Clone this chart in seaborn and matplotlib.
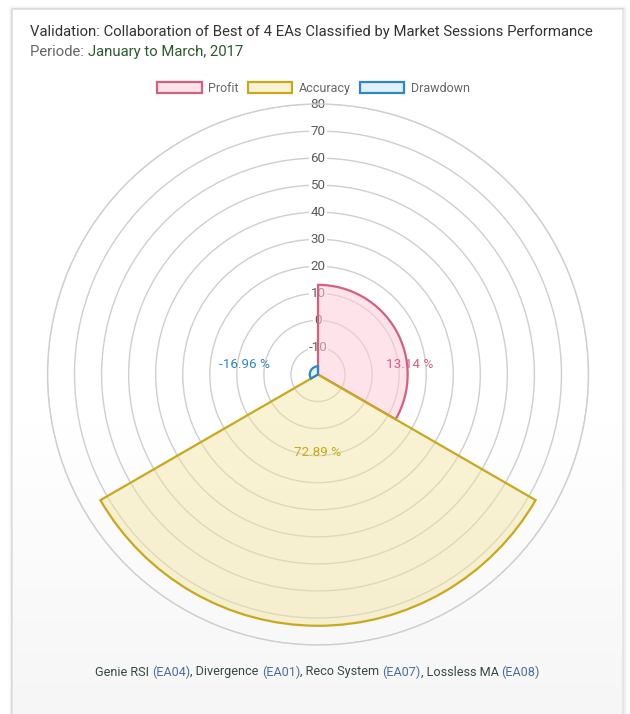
import numpy as np
import matplotlib
matplotlib.use("Agg")
import matplotlib.pyplot as plt
from matplotlib.patches import Rectangle
import seaborn as sns

# ---- data ----
categories = ["Profit", "Accuracy", "Drawdown"]
values = [13.14, 72.89, -16.96]
value_labels = ["13.14 %", "72.89 %", "-16.96 %"]
r_ticks = [-10, 0, 10, 20, 30, 40, 50, 60, 70, 80]
r_min, r_max = -20, 80
title = "Validation: Collaboration of Best of 4 EAs Classified by Market Sessions Performance"
sub_prefix = "Periode: "
sub_period = "January to March, 2017"
footer_names = ["Genie RSI", "Divergence", "Reco System", "Lossless MA"]
footer_codes = ["(EA04)", "(EA01)", "(EA07)", "(EA08)"]

# ---- style ----
sns.set_theme(style="white")
plt.rcParams["font.family"] = ["Roboto", "DejaVu Sans"]

edge_colors = ["#d4607f", "#c8a91e", "#2f86c0"]
fill_colors = [(1.0, 0.80, 0.86, 0.55), (0.95, 0.89, 0.62, 0.45), (0.80, 0.91, 0.97, 0.6)]
label_pos = [(83.5, 14.2), (180, 9.0), (278, 7.3)]  # (deg, r) for value labels

W, H = 630, 714
fig = plt.figure(figsize=(W / 100, H / 100), dpi=100)
fig.patch.set_facecolor("white")

# card background with gradient
bg = fig.add_axes([0, 0, 1, 1])
bg.set_xlim(0, W)
bg.set_ylim(H, 0)
bg.axis("off")
grad = np.ones((H, 1, 3))
ys = np.arange(H)
t = np.clip((ys - 420) / (H - 420), 0, 1)
shade = 1 - 0.035 * t
grad[:, 0, 0] = shade
grad[:, 0, 1] = shade
grad[:, 0, 2] = shade
card = Rectangle((12, 9), 611, 720, facecolor="none", edgecolor="#e4e4e4", lw=1.2)
bg.add_patch(card)
im = bg.imshow(grad, extent=(12, 623, H, 9), aspect="auto", zorder=0)
im.set_clip_path(card)
for i, a in enumerate([0.05, 0.03, 0.015]):
    bg.add_patch(Rectangle((12 - 1 - i, 9 - 1 - i), 611 + 2 + 2 * i, 720, facecolor="none",
                           edgecolor=(0, 0, 0, a), lw=1))

# ---- polar chart ----
cx, cy, R = 318, 374.5, 270.5
ax = fig.add_axes([(cx - R) / W, (H - cy - R) / H, 2 * R / W, 2 * R / H], projection="polar")
ax.patch.set_alpha(0)
ax.set_theta_zero_location("N")
ax.set_theta_direction(-1)
ax.set_ylim(r_min, r_max)
ax.set_xticks([])
ax.set_yticks(r_ticks)
ax.set_yticklabels([])
ax.yaxis.grid(True, color="#cfcfcf", lw=1.0)
ax.set_axisbelow(True)
ax.spines["polar"].set_color("#cfcfcf")
ax.spines["polar"].set_linewidth(1.0)

n = len(values)
width = 2 * np.pi / n
thetas = np.arange(n) * width + width / 2
bars = ax.bar(thetas, [v - r_min for v in values], width=width, bottom=r_min,
              color=fill_colors, edgecolor=edge_colors, linewidth=1.6, zorder=2)
for b, lab in zip(bars, categories):
    b.set_label(lab)

for r in r_ticks:
    ax.text(0, r, str(r), ha="center", va="center", fontsize=9.6, color="#5a5a5a",
            bbox=dict(facecolor="white", edgecolor="none", pad=0.8), zorder=1)

for (deg, rr), lab, c in zip(label_pos, value_labels, edge_colors):
    ax.text(np.deg2rad(deg), rr, lab, ha="center", va="center", fontsize=9.7, color=c, zorder=3)

leg = fig.legend(handles=list(bars), labels=categories, loc="center",
                 bbox_to_anchor=(313.5 / W, 1 - 88.5 / H), ncol=3, frameon=False,
                 fontsize=9, handlelength=3.55, handleheight=0.95, handletextpad=0.5,
                 columnspacing=0.75, borderpad=0)
for txt in leg.get_texts():
    txt.set_color("#666666")

# ---- texts ----
fig.canvas.draw()
renderer = fig.canvas.get_renderer()


def draw_pieces(pieces, x, y, ha="left", **kw):
    arts = []
    widths = []
    for s, c in pieces:
        a = fig.text(0, 0, s, color=c, va="center", ha="left", **kw)
        widths.append(a.get_window_extent(renderer).width)
        arts.append(a)
    total = sum(widths)
    x0 = x - total / 2 if ha == "center" else x
    for a, w in zip(arts, widths):
        a.set_position((x0 / W, 1 - y / H))
        x0 += w


fig.text(30 / W, 1 - 32 / H, title, fontsize=10.7, color="#333333", va="center", ha="left")
draw_pieces([(sub_prefix, "#666666"), (sub_period, "#2b5a2e")], 30, 52, fontsize=10.7)

pieces = []
for i, (nm, cd) in enumerate(zip(footer_names, footer_codes)):
    pre = "" if i == 0 else ", "
    pieces.append((pre + nm + " ", "#384a3e"))
    pieces.append((cd, "#4a6e9c"))
draw_pieces(pieces, 317.5, 672, ha="center", fontsize=9.1)

fig.savefig("out.png", dpi=100, facecolor="white")
